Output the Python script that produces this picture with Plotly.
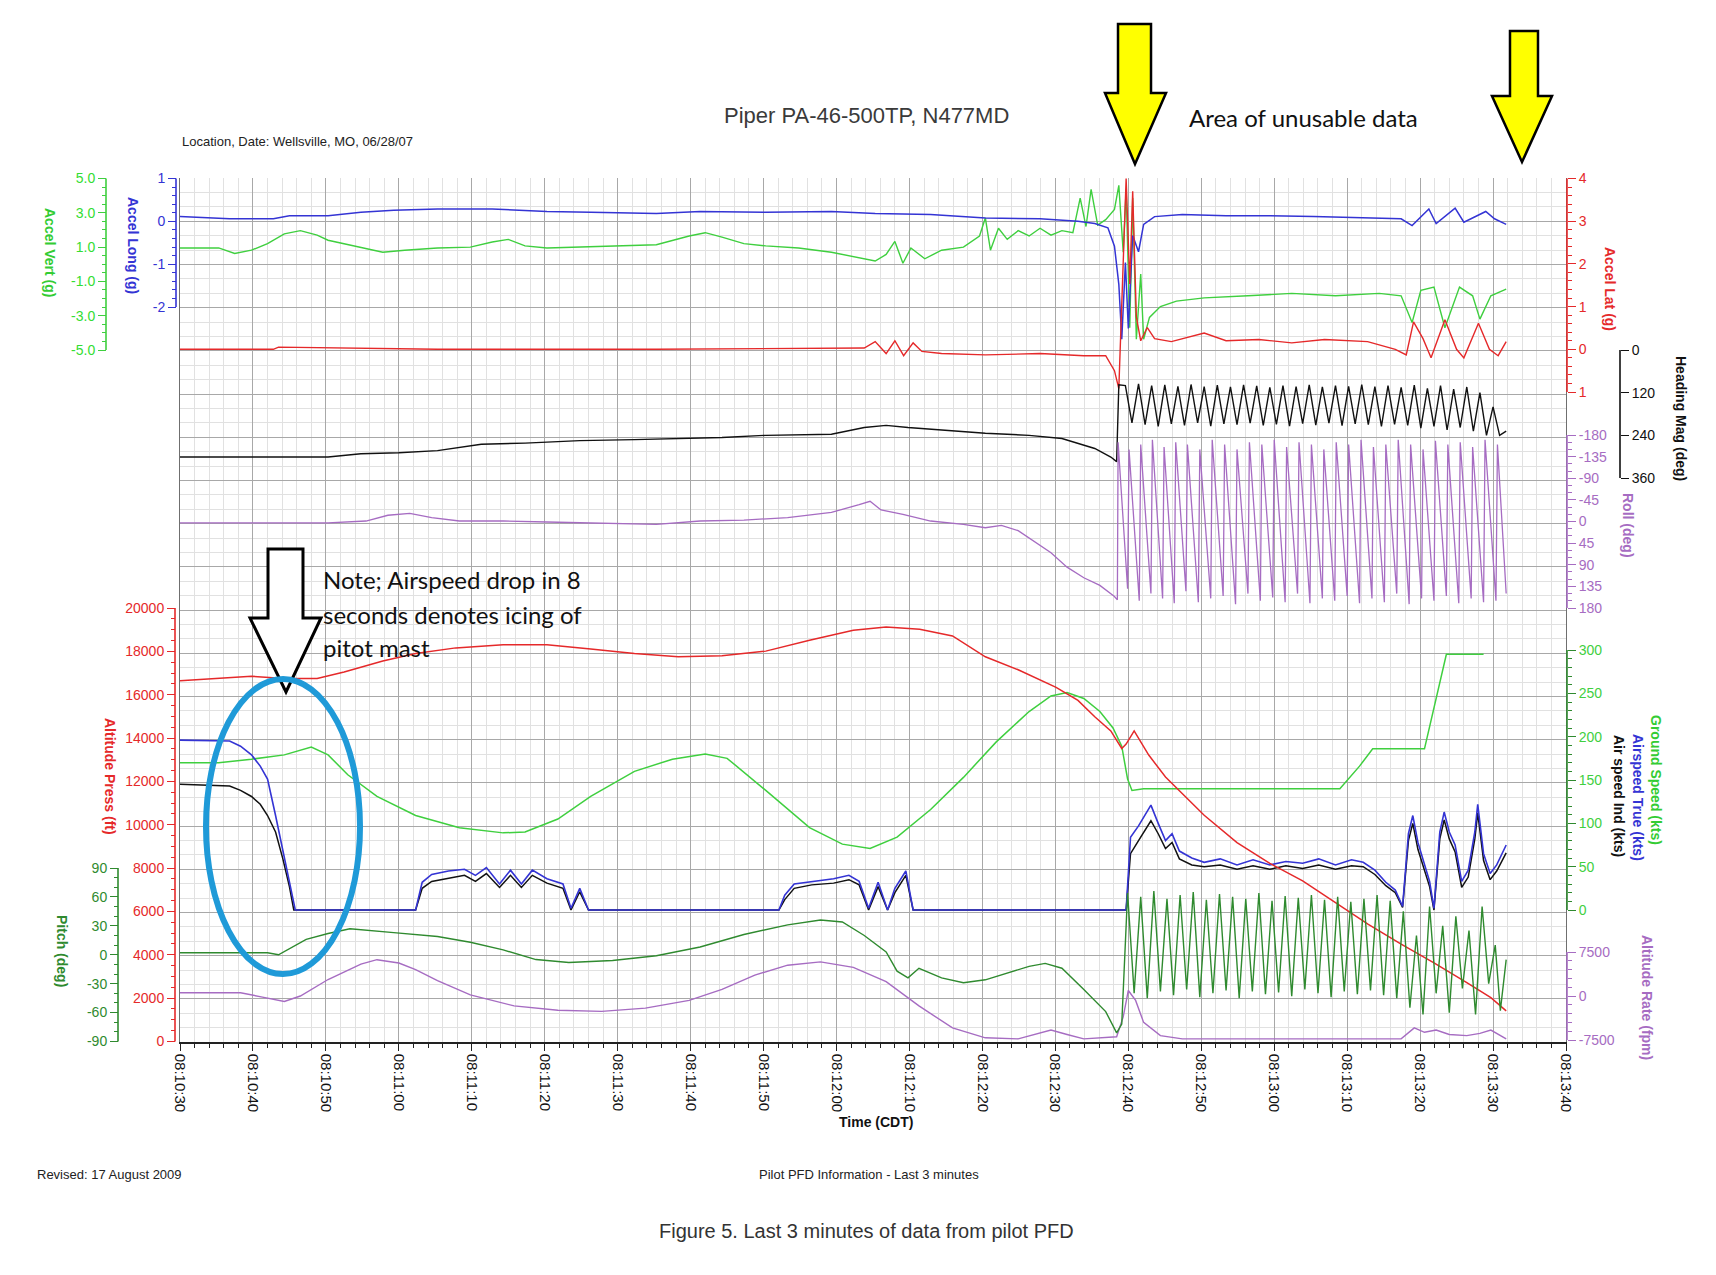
import plotly.graph_objects as go

# ---------------------------------------------------------------- data
TIME_TICKS_S = list(range(0, 191, 10))
TIME_TICKS = ["08:10:30", "08:10:40", "08:10:50", "08:11:00", "08:11:10", "08:11:20",
              "08:11:30", "08:11:40", "08:11:50", "08:12:00", "08:12:10", "08:12:20",
              "08:12:30", "08:12:40", "08:12:50", "08:13:00", "08:13:10", "08:13:20",
              "08:13:30", "08:13:40"]

# (seconds after 08:10:30, value)
ACCEL_VERT = [(0, 0.95), (5.3, 0.95), (7.5, 0.63), (9.8, 0.82), (12, 1.2), (14.3, 1.77), (16.5, 1.96),
              (18.8, 1.7), (20.3, 1.4), (22.5, 1.2), (24.8, 0.95), (27.8, 0.7), (30.8, 0.82), (35.3, 0.95),
              (39.8, 1.0), (42.8, 1.3), (45, 1.45), (47.3, 1.07), (50.3, 0.95), (54.8, 1.0), (59.3, 1.07),
              (65.3, 1.14), (69.8, 1.65), (72, 1.84), (74.3, 1.58), (77.3, 1.2), (80.3, 1.07), (84.8, 0.95),
              (89.3, 0.7), (93.1, 0.38), (95.3, 0.19), (96.8, 0.57), (98, 1.33), (99.1, 0.06), (100.2, 0.95),
              (102.1, 0.32), (104.4, 0.82), (107.4, 1.0), (109.6, 1.65), (110.4, 2.7), (111.1, 0.82),
              (112.2, 2.1), (113.4, 1.45), (114.9, 1.96), (116.4, 1.65), (117.9, 2.1), (119.4, 1.7),
              (120.9, 1.96), (122.4, 1.84), (123.4, 3.86), (124.2, 2.2), (124.9, 4.37), (125.8, 2.28),
              (126.9, 2.6), (128.1, 3.2), (128.7, 4.6), (129.3, 0.7), (129.7, 4.37), (130.2, -3.7),
              (130.6, 3.86), (131.1, -4.37), (131.7, -0.57), (132.1, -4.37), (132.9, -3.1), (134.4, -2.47),
              (136.6, -2.15), (140.4, -1.96), (146.4, -1.84), (152.4, -1.7), (158.4, -1.84), (164.4, -1.7),
              (167.4, -1.84), (168.9, -3.4), (170.1, -1.52), (171.9, -1.33), (173.4, -3.7), (175.4, -1.33),
              (177.2, -1.84), (178.2, -3.2), (179.7, -1.84), (181.8, -1.45)]

ACCEL_LONG = [(0, 0.11), (6.8, 0.06), (12.8, 0.06), (15, 0.13), (20.3, 0.13), (24.8, 0.21), (29.3, 0.26),
              (35.3, 0.29), (42.8, 0.29), (50.3, 0.23), (56.3, 0.21), (65.3, 0.18), (71.3, 0.23), (80.3, 0.21),
              (89.3, 0.23), (95.3, 0.18), (102.9, 0.16), (110.4, 0.08), (117.9, 0.06), (123.1, 0.0),
              (125.4, -0.05), (127.2, -0.15), (128.1, -0.58), (128.7, -1.47), (129.1, -2.75), (129.6, -0.96),
              (130, -2.5), (130.6, -0.33), (131.4, -0.71), (132.1, -0.07), (133.6, 0.11), (137.4, 0.16),
              (143.4, 0.13), (149.4, 0.13), (155.4, 0.11), (161.4, 0.08), (167.4, 0.06), (168.9, -0.1),
              (170.4, 0.16), (171.2, 0.29), (172.2, -0.05), (173.7, 0.16), (174.8, 0.31), (176, -0.02),
              (177.8, 0.13), (179, 0.23), (180.2, 0.06), (181.8, -0.07)]

ACCEL_LAT = [(0, 0), (12.8, 0), (13.5, 0.05), (35.3, 0), (65.3, 0.0), (93.8, 0.03), (95.3, 0.18), (96.8, -0.1),
             (98, 0.2), (99.2, -0.15), (100.5, 0.15), (101.7, -0.05), (104.4, -0.1), (110.4, -0.13),
             (117.9, -0.1), (123.9, -0.15), (126.9, -0.15), (128.1, -0.5), (128.7, -0.92), (129.3, 2.04),
             (129.7, 4.0), (130.2, 1.53), (130.6, 3.7), (131.1, 0.76), (131.7, 0.2), (132.6, 0.51),
             (133.6, 0.25), (135.9, 0.18), (140.4, 0.38), (143.4, 0.2), (147.9, 0.23), (152.4, 0.15),
             (156.9, 0.23), (162.8, 0.18), (166.6, 0), (168.1, -0.13), (169.1, 0.64), (170.4, 0.25),
             (171.5, -0.2), (173.4, 0.69), (175, 0), (176, -0.2), (178, 0.61), (179.5, 0), (180.7, -0.15),
             (181.8, 0.18)]

HEADING = [(0, 301), (14.3, 301), (20.3, 301), (24.8, 292), (30, 289), (35.3, 283), (39, 271), (41.3, 265),
           (47.3, 262), (54.8, 255), (62.3, 252), (68.3, 249), (74.3, 246), (80.3, 240), (89.3, 237),
           (93.8, 218), (96.8, 212), (99.8, 218), (104.4, 225), (110.4, 234), (116.4, 240), (120.9, 249),
           (125.4, 277), (127.6, 301), (128.4, 314), (128.7, 98), (129.6, 100), (130.5, 205), (131.4, 95),
           (132.3, 210), (133.2, 100), (134.1, 215), (135.0, 98), (135.9, 208), (136.8, 102), (137.7, 212),
           (138.6, 97), (139.5, 205), (140.4, 103), (141.3, 214), (142.2, 99), (143.1, 208), (144.0, 104),
           (144.9, 210), (145.8, 98), (146.7, 206), (147.6, 101), (148.5, 212), (149.4, 105), (150.3, 209),
           (151.2, 100), (152.1, 214), (153.0, 103), (153.9, 207), (154.8, 98), (155.7, 211), (156.6, 104),
           (157.5, 206), (158.4, 100), (159.3, 213), (160.2, 102), (161.1, 208), (162.0, 97), (162.9, 210),
           (163.8, 103), (164.7, 215), (165.6, 100), (166.5, 209), (167.4, 105), (168.3, 212), (169.2, 99),
           (170.1, 220), (171.0, 108), (171.9, 215), (172.8, 100), (173.7, 225), (174.6, 110), (175.5, 218),
           (176.4, 104), (177.3, 228), (178.2, 120), (179.1, 240), (180.0, 160), (180.9, 240), (181.8, 228)]

ROLL = [(0, 3), (20.3, 3), (25.5, -1), (28.5, -13), (31.5, -17), (34.5, -8), (38.3, -1), (44.3, -1), (50.3, 1),
        (57.8, 3), (65.3, 6), (71.3, -1), (77.3, -3), (83.3, -8), (89.3, -19), (93.1, -35), (94.6, -42),
        (96.1, -24), (99.1, -15), (102.9, -1), (107.4, 6), (110.4, 13), (112.6, 8), (114.9, 19), (117.1, 42),
        (119.4, 65), (121.6, 95), (123.9, 117), (126.1, 133), (128.1, 156), (128.5, 163),
        (128.6, -165), (129.9, 140), (130.1, -150), (131.5, 165), (131.7, -160), (133.1, 150), (133.3, -170),
        (134.7, 160), (134.9, -155), (136.3, 170), (136.5, -165), (137.9, 145), (138.1, -160), (139.6, 168),
        (139.8, -150), (141.3, 160), (141.5, -170), (143.0, 155), (143.2, -160), (144.7, 172), (144.9, -150),
        (146.4, 150), (146.6, -165), (148.1, 165), (148.3, -160), (149.8, 158), (150.0, -170), (151.5, 168),
        (151.7, -155), (153.2, 150), (153.4, -165), (154.9, 170), (155.1, -160), (156.6, 160), (156.8, -150),
        (158.3, 165), (158.5, -165), (160.0, 155), (160.2, -160), (161.7, 170), (161.9, -170), (163.4, 160),
        (163.6, -155), (165.1, 168), (165.3, -160), (166.8, 150), (167.0, -170), (168.5, 172), (168.7, -160),
        (170.2, 160), (170.4, -150), (171.9, 165), (172.1, -168), (173.6, 155), (173.8, -160), (175.3, 170),
        (175.5, -165), (177.0, 160), (177.2, -155), (178.7, 168), (178.9, -170), (180.4, 165), (180.6, -160),
        (181.8, 150)]

ALTITUDE_PRESS = [(0, 16645), (5.3, 16745), (9.8, 16850), (14.3, 16745), (18.8, 16745), (22.5, 17050),
                  (27.8, 17550), (32.3, 17900), (37.8, 18160), (44.3, 18310), (50.3, 18310), (56.3, 18110),
                  (62.3, 17900), (68.3, 17750), (74.3, 17800), (80.3, 18010), (86.3, 18510), (92.3, 18970),
                  (96.8, 19120), (101.4, 19020), (105.9, 18710), (110.4, 17750), (114.9, 17150),
                  (120.1, 16340), (123.1, 15740), (125.4, 14980), (127.6, 14330), (129.1, 13520),
                  (129.7, 13720), (130.8, 14330), (132.8, 13215), (135.1, 12200), (137.4, 11450),
                  (140.4, 10440), (144.9, 9180), (149.4, 8220), (153.9, 7410), (158.4, 6410), (162.9, 5400),
                  (167.4, 4490), (171.9, 3630), (176.4, 2720), (179.7, 2020), (181.8, 1410)]

GROUND_SPEED = [(0, 170), (5.3, 170), (9.8, 174), (14.3, 179), (18.0, 188), (20.3, 179), (23.0, 156),
                (27.0, 131), (32.3, 109), (38.3, 95), (44.3, 89), (47.3, 90), (51.8, 105), (56.3, 131),
                (62.3, 160), (67.5, 174), (72.0, 180), (75.0, 175), (80.3, 138), (86.3, 95), (90.8, 76),
                (94.6, 71), (98.3, 84), (102.9, 116), (107.4, 153), (111.9, 194), (116.4, 229), (119.4, 247),
                (121.6, 251), (123.9, 244), (126.1, 229), (127.9, 210), (129.1, 189), (129.9, 151),
                (130.5, 138), (132.1, 140), (159.0, 140), (161.7, 166), (163.5, 186), (170.6, 186),
                (173.6, 295), (178.7, 295)]

AIRSPEED_TRUE = [(0, 196), (6.8, 195), (8.3, 189), (9.8, 179), (11.0, 166), (12.0, 151), (13.1, 109), (14.1, 68),
                 (15.0, 33), (15.8, 0), (32.3, 0), (33.2, 32), (34.5, 41), (36.8, 45), (39.0, 47), (40.5, 40),
                 (42.0, 49), (43.8, 30), (45.3, 46), (46.8, 30), (48.3, 46), (50.3, 36), (52.5, 30), (53.6, 2),
                 (54.8, 25), (56.0, 0), (82.1, 0), (82.9, 17), (84.2, 30), (86.6, 33), (89.6, 36), (91.7, 40),
                 (93.1, 33), (94.4, 2), (95.7, 32), (97.0, 0), (98.0, 25), (99.5, 45), (100.5, 0), (129.7, 0),
                 (130.3, 84), (131.4, 97), (132.6, 113), (133.1, 121), (134.1, 100), (135.1, 80), (136.0, 88),
                 (137.0, 68), (138.7, 60), (140.4, 55), (142.6, 59), (144.9, 52), (147.1, 58), (149.4, 52),
                 (151.6, 56), (153.9, 54), (156.1, 59), (158.4, 52), (160.6, 58), (162.2, 55), (163.8, 46),
                 (165.3, 32), (166.6, 23), (167.6, 4), (168.4, 88), (169.0, 109), (169.7, 78), (170.6, 52),
                 (171.3, 33), (171.9, 2), (172.7, 90), (173.3, 113), (174.0, 90), (174.8, 75), (175.7, 33),
                 (176.6, 46), (177.5, 90), (177.9, 122), (178.7, 65), (179.6, 42), (180.5, 52), (181.8, 75)]

AIRSPEED_IND = [(0, 145), (6.8, 143), (8.3, 138), (9.8, 131), (11.0, 122), (12.0, 109), (13.1, 90), (14.1, 59),
                (15.0, 27), (15.6, 0), (32.3, 0), (33.2, 25), (34.5, 33), (36.8, 37), (39.0, 40), (40.5, 33),
                (42.0, 42), (43.8, 26), (45.3, 40), (46.8, 26), (48.3, 40), (50.3, 31), (52.5, 25), (53.6, 0),
                (54.8, 21), (56.0, 0), (82.1, 0), (82.9, 12), (84.2, 25), (86.6, 29), (89.6, 31), (91.7, 35),
                (93.1, 29), (94.4, 0), (95.7, 27), (97.0, 0), (98.0, 20), (99.5, 40), (100.5, 0), (129.7, 0),
                (130.3, 65), (131.4, 80), (132.6, 97), (133.1, 103), (134.1, 88), (135.1, 71), (136.0, 78),
                (137.0, 59), (138.7, 52), (140.4, 50), (142.6, 52), (144.9, 47), (147.1, 51), (149.4, 47),
                (151.6, 51), (153.9, 48), (156.1, 52), (158.4, 47), (160.6, 51), (162.2, 50), (163.8, 41),
                (165.3, 28), (166.6, 20), (167.6, 3), (168.4, 80), (169.0, 100), (169.7, 70), (170.6, 45),
                (171.3, 27), (171.9, 0), (172.7, 82), (173.3, 104), (174.0, 82), (174.8, 67), (175.7, 26),
                (176.6, 38), (177.5, 82), (177.9, 112), (178.7, 57), (179.6, 35), (180.5, 45), (181.8, 66)]

PITCH = [(0, 2), (12.0, 2), (13.5, 0), (15.0, 6), (17.3, 16), (20.3, 22), (23.3, 27), (29.3, 23), (35.3, 19),
         (39.8, 13), (44.3, 5), (48.8, -5), (53.3, -8), (59.3, -6), (65.3, -1), (71.3, 8), (77.3, 21), (83.3, 31),
         (87.8, 36), (90.8, 34), (93.8, 20), (96.8, 3), (98.3, -17), (99.8, -24), (101.3, -14), (104.4, -24),
         (107.4, -29), (110.4, -26), (113.4, -19), (116.4, -12), (118.6, -9), (120.9, -14), (123.9, -36),
         (126.9, -59), (128.4, -81), (129.1, -72), (129.9, 64), (130.8, -40), (131.7, 60), (132.6, -45),
         (133.5, 66), (134.4, -38), (135.3, 58), (136.2, -42), (137.1, 62), (138.0, -36), (138.9, 65),
         (139.8, -44), (140.7, 57), (141.6, -40), (142.5, 63), (143.4, -37), (144.3, 60), (145.2, -45),
         (146.1, 58), (147.0, -38), (147.9, 64), (148.8, -41), (149.7, 56), (150.6, -39), (151.5, 61),
         (152.4, -43), (153.3, 59), (154.2, -36), (155.1, 62), (156.0, -40), (156.9, 57), (157.8, -44),
         (158.7, 60), (159.6, -38), (160.5, 55), (161.4, -41), (162.3, 58), (163.2, -37), (164.1, 62),
         (165.0, -42), (165.9, 56), (166.8, -45), (167.7, 45), (168.6, -55), (169.5, 20), (170.4, -62),
         (171.3, 50), (172.2, -40), (173.1, 30), (174.0, -60), (174.9, 40), (175.8, -35), (176.7, 25),
         (177.6, -62), (178.5, 50), (179.4, -30), (180.3, 10), (181.0, -58), (181.8, -5)]

ALTITUDE_RATE = [(0, 560), (8.3, 560), (11.3, -190), (14.3, -940), (16.5, 0), (20.3, 2810), (24.8, 5440),
                 (27.0, 6190), (30.0, 5625), (32.3, 4500), (35.3, 2625), (39.8, 190), (45.8, -1690),
                 (51.8, -2440), (57.8, -2625), (63.8, -2060), (69.8, -750), (74.3, 1125), (78.8, 3560),
                 (83.3, 5250), (87.8, 5810), (92.3, 4875), (96.8, 2440), (101.3, -1690), (105.9, -5440),
                 (110.4, -7125), (114.9, -7310), (117.1, -6560), (119.4, -5810), (121.6, -6560), (123.9, -7310),
                 (128.4, -6940), (129.3, -3560), (130.0, 940), (131.0, -750), (132.1, -4500), (134.4, -6750),
                 (137.4, -7310), (167.4, -7310), (169.2, -5440), (170.6, -6190), (172.2, -5810), (174.0, -6560),
                 (176.4, -6750), (178.2, -6375), (179.7, -5810), (181.8, -7310)]

# ---------------------------------------------------------------- layout helpers
W, H = 1716, 1275
PL, PR, PT, PB = 180, 1566, 178, 1042          # plot area in pixels


def fx(x):
    return x / W


def fy(y):
    return 1 - y / H


def span(v1, p1, v2, p2):
    """axis range over the full plot height from two calibration ticks (value, pixel)."""
    k = (v2 - v1) / (p2 - p1)
    return [v1 + k * (PB - p1), v1 + k * (PT - p1)]


def unzip(pairs):
    return [p[0] for p in pairs], [p[1] for p in pairs]


def frange(a, b, s):
    out, v = [], a
    while v <= b + 1e-9:
        out.append(round(v, 6))
        v += s
    return out


GREEN = "#3fcf3f"
BLUE = "#3434d4"
RED = "#e5292a"
PURPLE = "#a66cc2"
DKGREEN = "#2f8a2f"
BLACK = "#111111"
FONT = "Liberation Sans, Arial, sans-serif"

AXES = {
    "y2": dict(cal=(5, 178.5, -5, 350), pos=106, side="left", col=GREEN, lab="#33dd33",
               tv=frange(-5, 5, 2), tt=["-5.0", "-3.0", "-1.0", "1.0", "3.0", "5.0"], mn=frange(-5, 5, 0.5)),
    "y3": dict(cal=(1, 178.5, -2, 307), pos=176, side="left", col=BLUE, lab=BLUE,
               tv=[-2, -1, 0, 1], tt=["-2", "-1", "0", "1"], mn=frange(-2, 1, 0.2)),
    "y4": dict(cal=(4, 178.5, -1, 392), pos=1567, side="right", col=RED, lab=RED,
               tv=[-1, 0, 1, 2, 3, 4], tt=["1", "0", "1", "2", "3", "4"], mn=frange(-1, 4, 0.2)),
    "y5": dict(cal=(0, 350, 360, 478), pos=1620, side="right", col=BLACK, lab=BLACK,
               tv=[0, 120, 240, 360], tt=["0", "120", "240", "360"], mn=[]),
    "y6": dict(cal=(-180, 435, 180, 608), pos=1567, side="right", col=PURPLE, lab=PURPLE,
               tv=frange(-180, 180, 45), tt=["-180", "-135", "-90", "-45", "0", "45", "90", "135", "180"],
               mn=frange(-180, 180, 15)),
    "y7": dict(cal=(0, 910, 300, 650), pos=1567, side="right", col=DKGREEN, lab=GREEN,
               tv=frange(0, 300, 50), tt=["0", "50", "100", "150", "200", "250", "300"], mn=frange(0, 300, 10)),
    "y8": dict(cal=(7500, 952, -7500, 1040), pos=1567, side="right", col=PURPLE, lab=PURPLE,
               tv=[-7500, 0, 7500], tt=["-7500", "0", "7500"], mn=frange(-7500, 7500, 1500)),
    "y9": dict(cal=(0, 1041.5, 20000, 608), pos=175, side="left", col=RED, lab=RED,
               tv=frange(0, 20000, 2000), tt=[str(v) for v in range(0, 20001, 2000)], mn=frange(0, 20000, 500)),
    "y10": dict(cal=(90, 868, -90, 1041.5), pos=118, side="left", col=DKGREEN, lab=DKGREEN,
                tv=frange(-90, 90, 30), tt=["-90", "-60", "-30", "0", "30", "60", "90"], mn=frange(-90, 90, 10)),
}

SERIES = [
    (ALTITUDE_RATE, "y8", PURPLE, 1.4),
    (PITCH, "y10", DKGREEN, 1.4),
    (GROUND_SPEED, "y7", GREEN, 1.5),
    (AIRSPEED_IND, "y7", BLACK, 1.5),
    (AIRSPEED_TRUE, "y7", BLUE, 1.6),
    (ALTITUDE_PRESS, "y9", RED, 1.5),
    (ROLL, "y6", PURPLE, 1.3),
    (HEADING, "y5", BLACK, 1.4),
    (ACCEL_VERT, "y2", GREEN, 1.4),
    (ACCEL_LAT, "y4", RED, 1.4),
    (ACCEL_LONG, "y3", BLUE, 1.5),
]

fig = go.Figure()
# empty trace that registers the base (grid) subplot the data axes overlay
fig.add_trace(go.Scatter(x=[], y=[], xaxis="x", yaxis="y", mode="lines", hoverinfo="skip"))
for pairs, ax, col, w in SERIES:
    t, v = unzip(pairs)
    fig.add_trace(go.Scatter(x=t, y=v, xaxis="x", yaxis=ax, mode="lines",
                             line=dict(color=col, width=w), hoverinfo="skip"))

layout = dict(
    width=W, height=H, margin=dict(l=0, r=0, t=0, b=0),
    paper_bgcolor="white", plot_bgcolor="white", showlegend=False,
    font=dict(family=FONT, size=14, color="#222"),
    xaxis=dict(domain=[fx(PL), fx(PR)], range=[0, 190], anchor="y", tickmode="array",
               tickvals=TIME_TICKS_S, ticktext=TIME_TICKS, tickangle=90, ticks="outside", ticklen=7,
               tickwidth=1.3, tickcolor="#222", showline=True, linecolor="#222", linewidth=1.5,
               showgrid=True, gridcolor="#a8a8a8", gridwidth=1, zeroline=False, automargin=False,
               tickfont=dict(size=15, color="#111", family=FONT),
               minor=dict(tickmode="array", tickvals=frange(0, 190, 2), showgrid=True, gridcolor="#e1e1e1",
                          ticks="outside", ticklen=4, tickcolor="#222")),
    yaxis=dict(domain=[fy(PB), fy(PT)], range=[0, 20], tickmode="linear", tick0=0, dtick=1,
               showticklabels=False, ticks="", showgrid=True, gridcolor="#a8a8a8", zeroline=False,
               showline=True, mirror=True, linecolor="#6f6f6f", automargin=False,
               minor=dict(tickmode="linear", tick0=0, dtick=1 / 3, showgrid=True, gridcolor="#e1e1e1")),
)

shapes = []
for name, a in AXES.items():
    v1, p1, v2, p2 = a["cal"]
    layout["yaxis" + name[1:]] = dict(
        overlaying="y", anchor="free", position=fx(a["pos"]), side=a["side"], range=span(v1, p1, v2, p2),
        tickmode="array", tickvals=a["tv"], ticktext=a["tt"], ticks="outside", ticklen=8, tickwidth=1.4,
        tickcolor=a["col"], tickfont=dict(color=a["lab"], size=14, family=FONT), showgrid=False,
        zeroline=False, showline=False, automargin=False,
        minor=dict(tickmode="array", tickvals=a["mn"], ticks="outside" if a["mn"] else "", ticklen=4,
                   tickcolor=a["col"], showgrid=False))
    lo, hi = min(a["tv"]), max(a["tv"])
    shapes.append(dict(type="line", xref="paper", yref=name, x0=fx(a["pos"]), x1=fx(a["pos"]),
                       y0=lo, y1=hi, line=dict(color=a["col"], width=1.6)))


def arrow(shaft_l, shaft_r, top, head_l, head_r, head_y, tip_x, tip_y):
    pts = [(shaft_l, top), (shaft_r, top), (shaft_r, head_y), (head_r, head_y), (tip_x, tip_y),
           (head_l, head_y), (shaft_l, head_y)]
    return "M " + " L ".join(f"{fx(x):.5f},{fy(y):.5f}" for x, y in pts) + " Z"


shapes += [
    dict(type="path", xref="paper", yref="paper", path=arrow(1118, 1151, 24, 1105, 1166, 93, 1135, 164),
         fillcolor="#ffff00", line=dict(color="#000", width=2.5)),
    dict(type="path", xref="paper", yref="paper", path=arrow(1510, 1538, 31, 1492, 1552, 96, 1522, 162),
         fillcolor="#ffff00", line=dict(color="#000", width=2.5)),
    dict(type="path", xref="paper", yref="paper", path=arrow(268, 303, 549, 250, 321, 618, 286, 692),
         fillcolor="#ffffff", line=dict(color="#000", width=3)),
    dict(type="circle", xref="paper", yref="paper", x0=fx(206), x1=fx(360), y0=fy(974), y1=fy(679),
         line=dict(color="#1f9ad8", width=6)),
]
layout["shapes"] = shapes


def note(text, x, y, size=14, color="#222", xanchor="center", angle=0, bold=False, family=FONT):
    return dict(text=f"<b>{text}</b>" if bold else text, x=fx(x), y=fy(y), xref="paper", yref="paper",
                showarrow=False, xanchor=xanchor, yanchor="middle", textangle=angle,
                font=dict(size=size, color=color, family=family))


AXIS_TITLES = [
    ("Accel Vert (g)", 50, 252, "#33cc33"),
    ("Accel Long (g)", 133, 245, BLUE),
    ("Accel Lat (g)", 1610, 289, RED),
    ("Heading Mag (deg)", 1681, 418, BLACK),
    ("Roll (deg)", 1628, 525, PURPLE),
    ("Ground Speed (kts)", 1656, 780, "#33cc33"),
    ("Airspeed True (kts)", 1638, 797, BLUE),
    ("Air speed Ind (kts)", 1619, 796, BLACK),
    ("Altitude Rate (fpm)", 1647, 997, PURPLE),
    ("Altitude Press (ft)", 110, 777, RED),
    ("Pitch (deg)", 62, 951, DKGREEN),
]
ann = [note(t, x, y, size=14, color=c, angle=90, bold=True) for t, x, y, c in AXIS_TITLES]
ann += [
    note("Piper PA-46-500TP, N477MD", 867, 115, size=22, color="#3a3a3a"),
    note("Location, Date: Wellsville, MO, 06/28/07", 180, 142, size=13, color="#222", xanchor="left"),
    note("Area of unusable data", 1187, 118, size=24, color="#111", xanchor="left", family="Lato, sans-serif"),
    note("Note; Airspeed drop in 8", 321, 579, size=24, color="#111", xanchor="left", family="Lato, sans-serif"),
    note("seconds denotes icing of", 321, 614, size=24, color="#111", xanchor="left", family="Lato, sans-serif"),
    note("pitot mast", 321, 648, size=24, color="#111", xanchor="left", family="Lato, sans-serif"),
    note("Time (CDT)", 876, 1122, size=14, color="#111", bold=True),
    note("Revised: 17 August 2009", 35, 1174, size=13, color="#222", xanchor="left"),
    note("Pilot PFD Information - Last 3 minutes", 869, 1174, size=13, color="#222"),
    note("Figure 5. Last 3 minutes of data from pilot PFD", 867, 1231, size=20, color="#333"),
]
layout["annotations"] = ann

fig.update_layout(**layout)
fig.write_html("out.html")
